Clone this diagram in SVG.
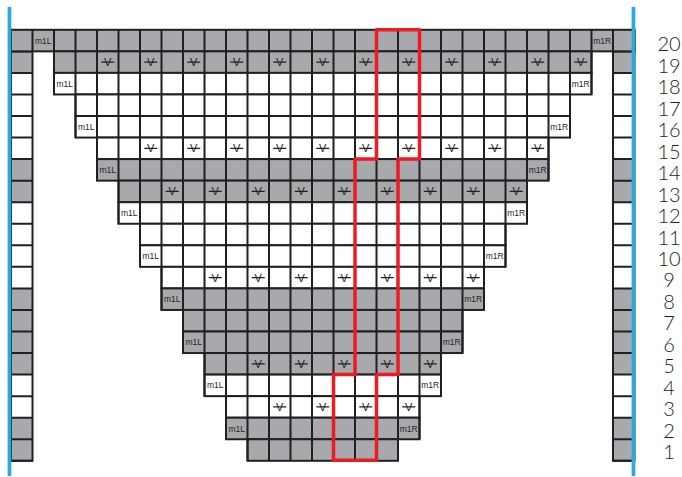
<svg xmlns="http://www.w3.org/2000/svg" width="682" height="477" viewBox="0 0 682 477">
<style>
.g{fill:#a7a9ac}
.w{fill:#fff}
.c{stroke:#231f20;stroke-width:2}
.o{fill:none;stroke:#231f20;stroke-width:2}
.vl{stroke:#231f20;stroke-width:21.55;stroke-dasharray:2 19.5;fill:none}
.hl{stroke:#231f20;stroke-width:21.5;stroke-dasharray:2 19.55;fill:none}
.t{font-family:"Liberation Sans",Arial,sans-serif;font-size:8.5px;fill:#231f20;text-anchor:middle}
.v{font-family:"Liberation Sans",Arial,sans-serif;font-size:11px;fill:#231f20;text-anchor:middle}
.vd{stroke:#231f20;stroke-width:1.2;fill:none}
.n{font-family:Lato,"Open Sans","Liberation Sans",sans-serif;font-weight:300;font-size:20px;fill:#231f20;text-anchor:middle}
.blue{fill:#27aae1}
</style>
<rect width="682" height="477" fill="#fff"/>
<g id="edge-left">
<rect class="g" x="11" y="51.35" width="21.5" height="21.55"/>
<rect class="w" x="11" y="72.9" width="21.5" height="86.2"/>
<rect class="g" x="11" y="159.1" width="21.5" height="43.1"/>
<rect class="w" x="11" y="202.2" width="21.5" height="86.2"/>
<rect class="g" x="11" y="288.4" width="21.5" height="86.2"/>
<rect class="w" x="11" y="374.6" width="21.5" height="43.1"/>
<rect class="g" x="11" y="417.7" width="21.5" height="43.1"/>
<rect class="o" x="11" y="51.35" width="21.5" height="409.45"/>
<line class="hl" x1="21.75" y1="50.35" x2="21.75" y2="461.8"/>
</g>
<g id="edge-right">
<rect class="g" x="613" y="51.35" width="21.5" height="21.55"/>
<rect class="w" x="613" y="72.9" width="21.5" height="86.2"/>
<rect class="g" x="613" y="159.1" width="21.5" height="43.1"/>
<rect class="w" x="613" y="202.2" width="21.5" height="86.2"/>
<rect class="g" x="613" y="288.4" width="21.5" height="86.2"/>
<rect class="w" x="613" y="374.6" width="21.5" height="43.1"/>
<rect class="g" x="613" y="417.7" width="21.5" height="43.1"/>
<rect class="o" x="613" y="51.35" width="21.5" height="409.45"/>
<line class="hl" x1="623.75" y1="50.35" x2="623.75" y2="461.8"/>
</g>
<g id="rows">
<rect class="g c" x="11" y="29.8" width="623.5" height="21.55"/>
<line class="vl" x1="10" y1="40.575" x2="635.5" y2="40.575"/>
<rect class="g c" x="54" y="51.35" width="537.5" height="21.55"/>
<line class="vl" x1="53" y1="62.125" x2="592.5" y2="62.125"/>
<rect class="w c" x="54" y="72.9" width="537.5" height="21.55"/>
<line class="vl" x1="53" y1="83.675" x2="592.5" y2="83.675"/>
<rect class="w c" x="75.5" y="94.45" width="494.5" height="21.55"/>
<line class="vl" x1="74.5" y1="105.225" x2="571" y2="105.225"/>
<rect class="w c" x="75.5" y="116" width="494.5" height="21.55"/>
<line class="vl" x1="74.5" y1="126.775" x2="571" y2="126.775"/>
<rect class="w c" x="97" y="137.55" width="451.5" height="21.55"/>
<line class="vl" x1="96" y1="148.325" x2="549.5" y2="148.325"/>
<rect class="g c" x="97" y="159.1" width="451.5" height="21.55"/>
<line class="vl" x1="96" y1="169.875" x2="549.5" y2="169.875"/>
<rect class="g c" x="118.5" y="180.65" width="408.5" height="21.55"/>
<line class="vl" x1="117.5" y1="191.425" x2="528" y2="191.425"/>
<rect class="w c" x="118.5" y="202.2" width="408.5" height="21.55"/>
<line class="vl" x1="117.5" y1="212.975" x2="528" y2="212.975"/>
<rect class="w c" x="140" y="223.75" width="365.5" height="21.55"/>
<line class="vl" x1="139" y1="234.525" x2="506.5" y2="234.525"/>
<rect class="w c" x="140" y="245.3" width="365.5" height="21.55"/>
<line class="vl" x1="139" y1="256.075" x2="506.5" y2="256.075"/>
<rect class="w c" x="161.5" y="266.85" width="322.5" height="21.55"/>
<line class="vl" x1="160.5" y1="277.625" x2="485" y2="277.625"/>
<rect class="g c" x="161.5" y="288.4" width="322.5" height="21.55"/>
<line class="vl" x1="160.5" y1="299.175" x2="485" y2="299.175"/>
<rect class="g c" x="183" y="309.95" width="279.5" height="21.55"/>
<line class="vl" x1="182" y1="320.725" x2="463.5" y2="320.725"/>
<rect class="g c" x="183" y="331.5" width="279.5" height="21.55"/>
<line class="vl" x1="182" y1="342.275" x2="463.5" y2="342.275"/>
<rect class="g c" x="204.5" y="353.05" width="236.5" height="21.55"/>
<line class="vl" x1="203.5" y1="363.825" x2="442" y2="363.825"/>
<rect class="w c" x="204.5" y="374.6" width="236.5" height="21.55"/>
<line class="vl" x1="203.5" y1="385.375" x2="442" y2="385.375"/>
<rect class="w c" x="226" y="396.15" width="193.5" height="21.55"/>
<line class="vl" x1="225" y1="406.925" x2="420.5" y2="406.925"/>
<rect class="g c" x="226" y="417.7" width="193.5" height="21.55"/>
<line class="vl" x1="225" y1="428.475" x2="420.5" y2="428.475"/>
<rect class="g c" x="247.5" y="439.25" width="150.5" height="21.55"/>
<line class="vl" x1="246.5" y1="450.025" x2="399" y2="450.025"/>
</g>
<g id="increases">
<text class="t" x="43.25" y="43.6">m1L</text>
<text class="t" x="602.25" y="43.6">m1R</text>
<text class="t" x="64.75" y="86.7">m1L</text>
<text class="t" x="580.75" y="86.7">m1R</text>
<text class="t" x="86.25" y="129.8">m1L</text>
<text class="t" x="559.25" y="129.8">m1R</text>
<text class="t" x="107.75" y="172.9">m1L</text>
<text class="t" x="537.75" y="172.9">m1R</text>
<text class="t" x="129.25" y="216">m1L</text>
<text class="t" x="516.25" y="216">m1R</text>
<text class="t" x="150.75" y="259.1">m1L</text>
<text class="t" x="494.75" y="259.1">m1R</text>
<text class="t" x="172.25" y="302.2">m1L</text>
<text class="t" x="473.25" y="302.2">m1R</text>
<text class="t" x="193.75" y="345.3">m1L</text>
<text class="t" x="451.75" y="345.3">m1R</text>
<text class="t" x="215.25" y="388.4">m1L</text>
<text class="t" x="430.25" y="388.4">m1R</text>
<text class="t" x="236.75" y="431.5">m1L</text>
<text class="t" x="408.75" y="431.5">m1R</text>
</g>
<g id="slipped">
<path class="vd" d="M101.25 62.125h13M144.25 62.125h13M187.25 62.125h13M230.25 62.125h13M273.25 62.125h13M316.25 62.125h13M359.25 62.125h13M402.25 62.125h13M445.25 62.125h13M488.25 62.125h13M531.25 62.125h13M574.25 62.125h13
M144.25 148.325h13M187.25 148.325h13M230.25 148.325h13M273.25 148.325h13M316.25 148.325h13M359.25 148.325h13M402.25 148.325h13M445.25 148.325h13M488.25 148.325h13M531.25 148.325h13
M165.75 191.425h13M208.75 191.425h13M251.75 191.425h13M294.75 191.425h13M337.75 191.425h13M380.75 191.425h13M423.75 191.425h13M466.75 191.425h13M509.75 191.425h13
M208.75 277.625h13M251.75 277.625h13M294.75 277.625h13M337.75 277.625h13M380.75 277.625h13M423.75 277.625h13M466.75 277.625h13
M251.75 363.825h13M294.75 363.825h13M337.75 363.825h13M380.75 363.825h13M423.75 363.825h13
M273.25 406.925h13M316.25 406.925h13M359.25 406.925h13M402.25 406.925h13"/>
<text class="v" x="107.75" y="66.1">V</text>
<text class="v" x="150.75" y="66.1">V</text>
<text class="v" x="193.75" y="66.1">V</text>
<text class="v" x="236.75" y="66.1">V</text>
<text class="v" x="279.75" y="66.1">V</text>
<text class="v" x="322.75" y="66.1">V</text>
<text class="v" x="365.75" y="66.1">V</text>
<text class="v" x="408.75" y="66.1">V</text>
<text class="v" x="451.75" y="66.1">V</text>
<text class="v" x="494.75" y="66.1">V</text>
<text class="v" x="537.75" y="66.1">V</text>
<text class="v" x="580.75" y="66.1">V</text>
<text class="v" x="150.75" y="152.3">V</text>
<text class="v" x="193.75" y="152.3">V</text>
<text class="v" x="236.75" y="152.3">V</text>
<text class="v" x="279.75" y="152.3">V</text>
<text class="v" x="322.75" y="152.3">V</text>
<text class="v" x="365.75" y="152.3">V</text>
<text class="v" x="408.75" y="152.3">V</text>
<text class="v" x="451.75" y="152.3">V</text>
<text class="v" x="494.75" y="152.3">V</text>
<text class="v" x="537.75" y="152.3">V</text>
<text class="v" x="172.25" y="195.4">V</text>
<text class="v" x="215.25" y="195.4">V</text>
<text class="v" x="258.25" y="195.4">V</text>
<text class="v" x="301.25" y="195.4">V</text>
<text class="v" x="344.25" y="195.4">V</text>
<text class="v" x="387.25" y="195.4">V</text>
<text class="v" x="430.25" y="195.4">V</text>
<text class="v" x="473.25" y="195.4">V</text>
<text class="v" x="516.25" y="195.4">V</text>
<text class="v" x="215.25" y="281.6">V</text>
<text class="v" x="258.25" y="281.6">V</text>
<text class="v" x="301.25" y="281.6">V</text>
<text class="v" x="344.25" y="281.6">V</text>
<text class="v" x="387.25" y="281.6">V</text>
<text class="v" x="430.25" y="281.6">V</text>
<text class="v" x="473.25" y="281.6">V</text>
<text class="v" x="258.25" y="367.8">V</text>
<text class="v" x="301.25" y="367.8">V</text>
<text class="v" x="344.25" y="367.8">V</text>
<text class="v" x="387.25" y="367.8">V</text>
<text class="v" x="430.25" y="367.8">V</text>
<text class="v" x="279.75" y="410.9">V</text>
<text class="v" x="322.75" y="410.9">V</text>
<text class="v" x="365.75" y="410.9">V</text>
<text class="v" x="408.75" y="410.9">V</text>
</g>
<g id="highlight">
<path d="M376.5 29.8H419.5V159.1H398V374.6H376.5V460.3H333.5V374.6H355V159.1H376.5Z" fill="none" stroke="#ed1c24" stroke-width="3.5" stroke-linejoin="round"/>
</g>
<g id="borders">
<rect class="blue" x="7.6" y="7" width="3.7" height="469"/>
<rect class="blue" x="631.6" y="7" width="3.7" height="469"/>
</g>
<g id="row-numbers">
<text class="n" x="669" y="51.3">20</text>
<text class="n" x="669" y="72.7">19</text>
<text class="n" x="669" y="94.2">18</text>
<text class="n" x="669" y="115.7">17</text>
<text class="n" x="669" y="137.2">16</text>
<text class="n" x="669" y="158.6">15</text>
<text class="n" x="669" y="180.1">14</text>
<text class="n" x="669" y="201.6">13</text>
<text class="n" x="669" y="223">12</text>
<text class="n" x="669" y="244.5">11</text>
<text class="n" x="669" y="266">10</text>
<text class="n" x="669" y="287.4">9</text>
<text class="n" x="669" y="308.9">8</text>
<text class="n" x="669" y="330.4">7</text>
<text class="n" x="669" y="351.9">6</text>
<text class="n" x="669" y="373.3">5</text>
<text class="n" x="669" y="394.8">4</text>
<text class="n" x="669" y="416.3">3</text>
<text class="n" x="669" y="437.7">2</text>
<text class="n" x="669" y="459.2">1</text>
</g>
</svg>
